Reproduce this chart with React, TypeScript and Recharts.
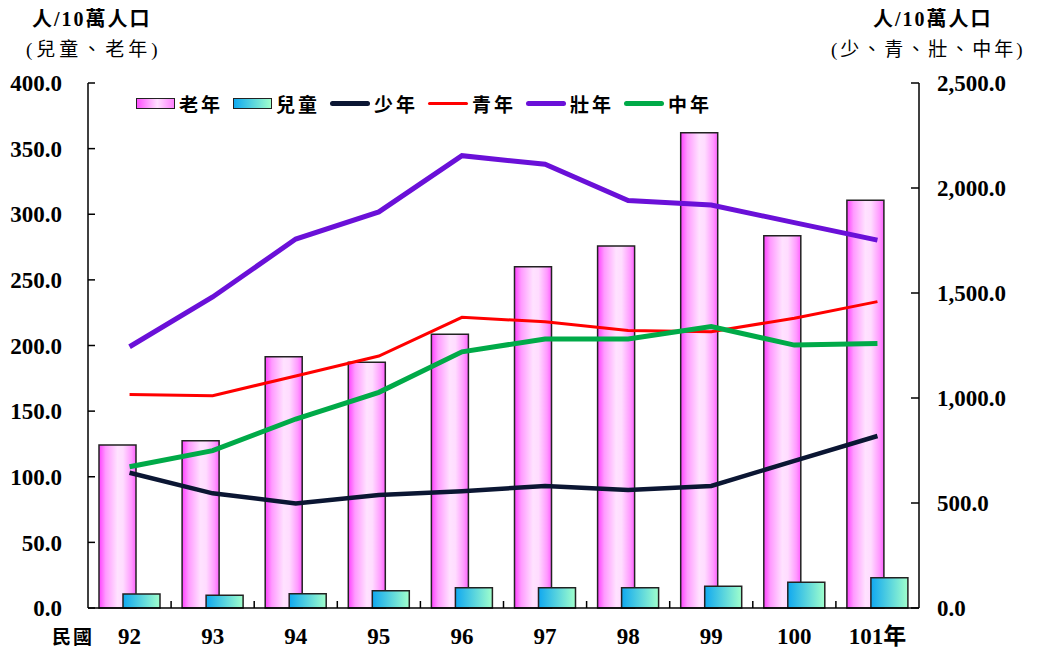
import React from 'react';
import { ComposedChart, Bar, Line, XAxis, YAxis } from 'recharts';

const categories = ['92', '93', '94', '95', '96', '97', '98', '99', '100', '101年'];
const elderly = [124.2, 127.5, 191.5, 187.2, 208.5, 260.0, 275.8, 362.1, 283.7, 310.6];
const children = [10.7, 9.7, 10.9, 13.2, 15.5, 15.5, 15.5, 16.5, 19.6, 23.1];
const juvenile = [644, 546, 498, 538, 556, 581, 562, 581, 701, 819];
const youth = [1017, 1011, 1105, 1200, 1384, 1363, 1321, 1316, 1380, 1459];
const prime = [1244, 1481, 1757, 1886, 2154, 2113, 1940, 1919, 1835, 1752];
const middle = [673, 749, 900, 1027, 1220, 1281, 1281, 1340, 1252, 1260];
const leftTicks = [0, 50, 100, 150, 200, 250, 300, 350, 400];
const rightTicks = [0, 500, 1000, 1500, 2000, 2500];

const data = categories.map((c, i) => ({
  cat: c,
  elderly: elderly[i],
  children: children[i],
  juvenile: juvenile[i],
  youth: youth[i],
  prime: prime[i],
  middle: middle[i],
}));

const W = 1038;
const H = 648;
const LEFT_W = 88;
const RIGHT_W = 119;
const TOP = 83;
const XAXIS_H = 40;
const PLOT_W = W - LEFT_W - RIGHT_W;
const BW = PLOT_W / categories.length;
const X_MARGIN = 20;

const NUM_FONT = '"Liberation Serif", "Times New Roman", serif';
const CJK_FONT = '"Liberation Serif", "Noto Sans CJK TC", serif';

const fmt1 = (v: number) => v.toFixed(1);
const fmtComma = (v: number) =>
  v.toLocaleString('en-US', { minimumFractionDigits: 1, maximumFractionDigits: 1 });

const COLORS = {
  juvenile: '#0B1633',
  youth: '#FF0000',
  prime: '#6A10D8',
  middle: '#00AA48',
};

const XTick = (props: any) => {
  const { x, y, payload, index } = props;
  const axisY = y - X_MARGIN;
  return (
    <g>
      <text
        x={x}
        y={y}
        dy="0.71em"
        textAnchor="middle"
        fontFamily={CJK_FONT}
        fontWeight="bold"
        fontSize={23}
        fill="#000"
      >
        {payload.value}
      </text>
      {index < categories.length - 1 && (
        <line
          x1={x + BW / 2}
          x2={x + BW / 2}
          y1={axisY - 7}
          y2={axisY}
          stroke="#000"
          strokeWidth={1.5}
        />
      )}
    </g>
  );
};

const Swatch = ({ kind }: { kind: string }) => {
  if (kind === 'elderly' || kind === 'children') {
    const bg =
      kind === 'elderly'
        ? 'linear-gradient(to right, #FF50FF, #FFE0FF 55%, #FF80FF)'
        : 'linear-gradient(to right, #10AAF0, #A0FFCC)';
    return (
      <span
        style={{
          display: 'inline-block',
          width: 37,
          height: 9,
          border: '1.5px solid #222',
          background: bg,
          marginRight: 4,
        }}
      />
    );
  }
  const color = (COLORS as any)[kind];
  const h = kind === 'youth' ? 3 : 5;
  return (
    <span
      style={{
        display: 'inline-block',
        width: 40,
        height: h,
        borderRadius: 3,
        background: color,
        marginRight: 4,
        verticalAlign: 'middle',
      }}
    />
  );
};

const legendItems = [
  { kind: 'elderly', label: '老年' },
  { kind: 'children', label: '兒童' },
  { kind: 'juvenile', label: '少年' },
  { kind: 'youth', label: '青年' },
  { kind: 'prime', label: '壯年' },
  { kind: 'middle', label: '中年' },
];

export default function App() {
  return (
    <div
      style={{
        position: 'absolute',
        left: 0,
        top: 0,
        width: W,
        height: H,
        background: '#fff',
        overflow: 'hidden',
      }}
    >
      <ComposedChart
        width={W}
        height={H}
        data={data}
        margin={{ top: TOP, right: 0, bottom: 0, left: 0 }}
        barGap={-13}
        barCategoryGap={0}
      >
        <defs>
          <linearGradient id="gPink" x1="0" y1="0" x2="1" y2="0">
            <stop offset="0%" stopColor="#FF40FF" />
            <stop offset="18%" stopColor="#FF9AFF" />
            <stop offset="50%" stopColor="#FFE2FF" />
            <stop offset="65%" stopColor="#FFDCFF" />
            <stop offset="88%" stopColor="#FF9AFF" />
            <stop offset="100%" stopColor="#FF60FF" />
          </linearGradient>
          <linearGradient id="gBlue" x1="0" y1="0" x2="1" y2="0">
            <stop offset="0%" stopColor="#10A8F0" />
            <stop offset="100%" stopColor="#A0FFCC" />
          </linearGradient>
        </defs>
        <XAxis
          dataKey="cat"
          xAxisId="x"
          height={XAXIS_H}
          tickLine={false}
          tickSize={0}
          tickMargin={X_MARGIN}
          axisLine={{ stroke: '#000', strokeWidth: 1.5 }}
          tick={<XTick />}
          interval={0}
        />
        <YAxis
          yAxisId="left"
          orientation="left"
          width={LEFT_W}
          domain={[0, 400]}
          ticks={leftTicks}
          tickFormatter={fmt1}
          tickSize={-7}
          tickMargin={33}
          axisLine={{ stroke: '#000', strokeWidth: 1.5 }}
          tickLine={{ stroke: '#000', strokeWidth: 1.5 }}
          tick={{ fill: '#000', fontFamily: NUM_FONT, fontWeight: 'bold', fontSize: 23 }}
          interval={0}
        />
        <YAxis
          yAxisId="right"
          orientation="right"
          width={RIGHT_W}
          domain={[0, 2500]}
          ticks={rightTicks}
          tickFormatter={fmtComma}
          tickSize={-8}
          tickMargin={26}
          axisLine={{ stroke: '#000', strokeWidth: 1.5 }}
          tickLine={{ stroke: '#000', strokeWidth: 1.5 }}
          tick={{
            fill: '#000',
            fontFamily: NUM_FONT,
            fontWeight: 'bold',
            fontSize: 23,
            textAnchor: 'start',
          }}
          interval={0}
        />
        <Bar
          xAxisId="x"
          yAxisId="left"
          dataKey="elderly"
          barSize={37}
          fill="url(#gPink)"
          stroke="#222"
          strokeWidth={1.5}
          isAnimationActive={false}
        />
        <Bar
          xAxisId="x"
          yAxisId="left"
          dataKey="children"
          barSize={37}
          fill="url(#gBlue)"
          stroke="#222"
          strokeWidth={1.5}
          isAnimationActive={false}
        />
        <Line
          xAxisId="x"
          yAxisId="right"
          dataKey="juvenile"
          stroke={COLORS.juvenile}
          strokeWidth={4.5}
          dot={false}
          isAnimationActive={false}
        />
        <Line
          xAxisId="x"
          yAxisId="right"
          dataKey="youth"
          stroke={COLORS.youth}
          strokeWidth={3}
          dot={false}
          isAnimationActive={false}
        />
        <Line
          xAxisId="x"
          yAxisId="right"
          dataKey="prime"
          stroke={COLORS.prime}
          strokeWidth={5}
          dot={false}
          isAnimationActive={false}
        />
        <Line
          xAxisId="x"
          yAxisId="right"
          dataKey="middle"
          stroke={COLORS.middle}
          strokeWidth={5}
          dot={false}
          isAnimationActive={false}
        />
      </ComposedChart>

      <div
        style={{
          position: 'absolute',
          left: 136,
          top: 90,
          display: 'flex',
          alignItems: 'center',
          fontFamily: '"Noto Sans CJK TC", sans-serif',
          fontWeight: 'bold',
          fontSize: 19,
          letterSpacing: 3,
          color: '#000',
          whiteSpace: 'nowrap',
        }}
      >
        {legendItems.map((it) => (
          <span
            key={it.kind}
            style={{ display: 'inline-flex', alignItems: 'center', marginRight: 10 }}
          >
            <Swatch kind={it.kind} />
            {it.label}
          </span>
        ))}
      </div>

      <div
        style={{
          position: 'absolute',
          left: 32,
          top: 7,
          fontFamily: CJK_FONT,
          fontWeight: 'bold',
          fontSize: 20,
          letterSpacing: 2,
          lineHeight: 1.2,
          whiteSpace: 'nowrap',
        }}
      >
        人/10萬人口
      </div>
      <div
        style={{
          position: 'absolute',
          left: 26,
          top: 39,
          fontFamily: CJK_FONT,
          fontSize: 19,
          letterSpacing: 4,
          lineHeight: 1.2,
          whiteSpace: 'nowrap',
        }}
      >
        (兒童、老年)
      </div>
      <div
        style={{
          position: 'absolute',
          left: 873,
          top: 7,
          fontFamily: CJK_FONT,
          fontWeight: 'bold',
          fontSize: 20,
          letterSpacing: 2,
          lineHeight: 1.2,
          whiteSpace: 'nowrap',
        }}
      >
        人/10萬人口
      </div>
      <div
        style={{
          position: 'absolute',
          left: 831,
          top: 39,
          fontFamily: CJK_FONT,
          fontSize: 19,
          letterSpacing: 3,
          lineHeight: 1.2,
          whiteSpace: 'nowrap',
        }}
      >
        (少、青、壯、中年)
      </div>
      <div
        style={{
          position: 'absolute',
          left: 52,
          top: 626,
          fontFamily: '"Noto Sans CJK TC", sans-serif',
          fontWeight: 'bold',
          fontSize: 19,
          letterSpacing: 2,
          lineHeight: 1.1,
          whiteSpace: 'nowrap',
        }}
      >
        民國
      </div>
    </div>
  );
}
